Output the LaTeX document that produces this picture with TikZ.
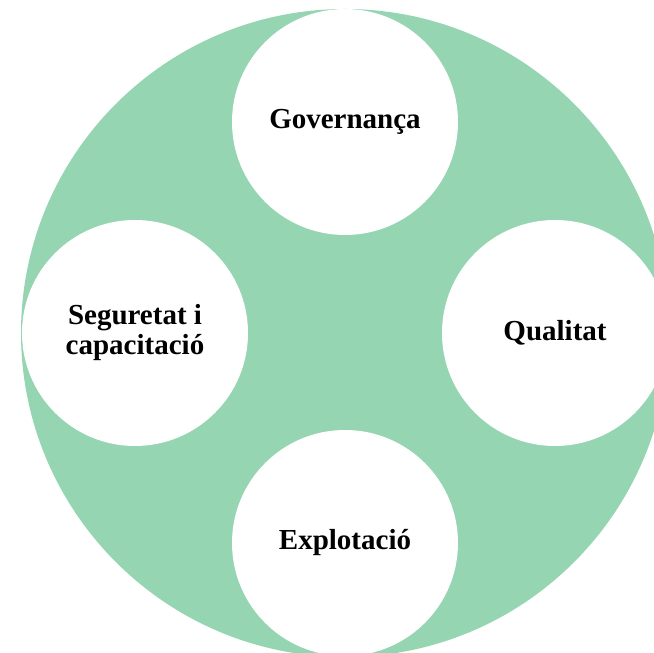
\documentclass[tikz,border=0pt]{standalone}
\usepackage{fontspec}
\setmainfont{Liberation Serif}
\definecolor{mint}{HTML}{95D5B2}
\begin{document}
\begin{tikzpicture}[x=0.5pt,y=0.5pt,
    area/.style={circle,fill=white,minimum size=113pt,inner sep=0pt,align=center,
      font=\bfseries\fontsize{14.5}{15}\selectfont}]
    \useasboundingbox (0,0) rectangle (654,653);
    \clip (0,0) rectangle (654,653);
    \fill[mint] (345,320) circle (324);
    \node[area] (gov) at (345,531) {Governança};
    \node[area] (seg) at (135,320) {Seguretat i\\capacitació};
    \node[area] (qual) at (555,320) {Qualitat};
    \node[area] (expl) at (345,110) {Explotació};
\end{tikzpicture}
\end{document}
